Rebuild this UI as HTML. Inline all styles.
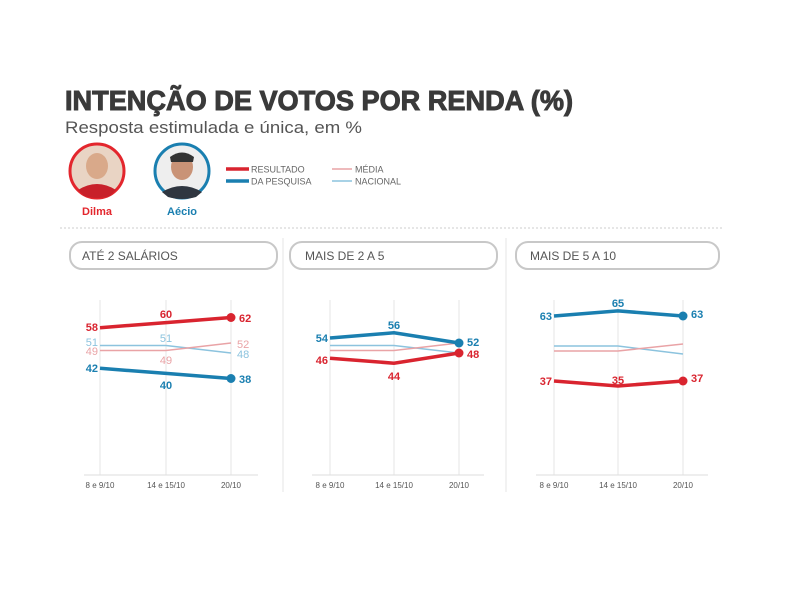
<!DOCTYPE html>
<html><head><meta charset="utf-8"><style>
html,body{margin:0;padding:0;background:#fff;width:800px;height:600px;overflow:hidden}
svg{display:block;font-family:"Liberation Sans",sans-serif}
</style></head><body>
<svg width="800" height="600" viewBox="0 0 800 600" xmlns="http://www.w3.org/2000/svg">
<text x="65" y="110" font-size="28" font-weight="900" fill="#3a3a3a" textLength="508" lengthAdjust="spacingAndGlyphs" stroke="#3a3a3a" stroke-width="1">INTENÇÃO DE VOTOS POR RENDA (%)</text>
<text x="65" y="133" font-size="17" fill="#555" textLength="297" lengthAdjust="spacingAndGlyphs">Resposta estimulada e única, em %</text>
<!-- avatars -->
<circle cx="97" cy="171" r="27" fill="#e9d4c4" stroke="#e3262d" stroke-width="3"/>
<ellipse cx="97" cy="166" rx="11" ry="13" fill="#d9a98a"/>
<path d="M78 190 Q97 178 116 190 L110 196 Q97 200 84 196Z" fill="#c8202a"/>
<circle cx="182" cy="171" r="27" fill="#eee" stroke="#1a7fb0" stroke-width="3"/>
<ellipse cx="182" cy="167" rx="11" ry="13" fill="#c99377"/>
<path d="M170 157 Q182 148 194 157 L193 162 L171 162Z" fill="#333"/>
<path d="M162 192 Q182 180 202 192 L196 197 Q182 201 168 197Z" fill="#2f3640"/>
<text x="97" y="215" font-size="11" font-weight="bold" fill="#e3262d" text-anchor="middle">Dilma</text>
<text x="182" y="215" font-size="11" font-weight="bold" fill="#1a7fb0" text-anchor="middle">Aécio</text>
<!-- legend -->
<line x1="226" y1="169" x2="249" y2="169" stroke="#d9242f" stroke-width="3.5"/>
<line x1="226" y1="181" x2="249" y2="181" stroke="#1a7fb0" stroke-width="3.5"/>
<text x="251" y="172.5" font-size="9" fill="#666">RESULTADO</text>
<text x="251" y="184.5" font-size="9" fill="#666">DA PESQUISA</text>
<line x1="332" y1="169" x2="352" y2="169" stroke="#e9a3a6" stroke-width="1.5"/>
<line x1="332" y1="181" x2="352" y2="181" stroke="#8cc3de" stroke-width="1.5"/>
<text x="355" y="172.5" font-size="9" fill="#666">MÉDIA</text>
<text x="355" y="184.5" font-size="9" fill="#666">NACIONAL</text>
<line x1="60" y1="228" x2="722" y2="228" stroke="#ccc" stroke-width="1" stroke-dasharray="2,2"/>
<!-- panel separators -->
<line x1="283" y1="238" x2="283" y2="492" stroke="#e6e6e6"/>
<line x1="506" y1="238" x2="506" y2="492" stroke="#e6e6e6"/>
<!-- header boxes -->
<rect x="70" y="242" width="207" height="27" rx="12" fill="#fff" stroke="#c8c8c8" stroke-width="2"/>
<text x="82" y="260" font-size="12" fill="#555">ATÉ 2 SALÁRIOS</text>
<rect x="290" y="242" width="207" height="27" rx="12" fill="#fff" stroke="#c8c8c8" stroke-width="2"/>
<text x="305" y="260" font-size="12" fill="#555">MAIS DE 2 A 5</text>
<rect x="516" y="242" width="203" height="27" rx="12" fill="#fff" stroke="#c8c8c8" stroke-width="2"/>
<text x="530" y="260" font-size="12" fill="#555">MAIS DE 5 A 10</text>

<!-- Panel 1: x 100,166,231 ; y=475-2.54v -->
<g>
<line x1="100" y1="300" x2="100" y2="475" stroke="#e6e6e6"/>
<line x1="166" y1="300" x2="166" y2="475" stroke="#e6e6e6"/>
<line x1="231" y1="300" x2="231" y2="475" stroke="#e6e6e6"/>
<line x1="84" y1="475" x2="258" y2="475" stroke="#ddd"/>
<text x="100" y="488" font-size="8" fill="#555" text-anchor="middle">8 e 9/10</text>
<text x="166" y="488" font-size="8" fill="#555" text-anchor="middle">14 e 15/10</text>
<text x="231" y="488" font-size="8" fill="#555" text-anchor="middle">20/10</text>
<polyline points="100,345.5 166,345.5 231,353" fill="none" stroke="#8cc3de" stroke-width="1.5"/>
<polyline points="100,350.5 166,350.5 231,343" fill="none" stroke="#e9a3a6" stroke-width="1.5"/>
<polyline points="100,327.7 166,322.6 231,317.5" fill="none" stroke="#d9242f" stroke-width="3.5"/>
<polyline points="100,368.3 166,373.4 231,378.5" fill="none" stroke="#1a7fb0" stroke-width="3.5"/>
<circle cx="231" cy="317.5" r="4.5" fill="#d9242f"/>
<circle cx="231" cy="378.5" r="4.5" fill="#1a7fb0"/>
<g font-size="11" font-weight="bold">
<text x="98" y="331" fill="#d9242f" text-anchor="end">58</text>
<text x="166" y="318" fill="#d9242f" text-anchor="middle">60</text>
<text x="239" y="322" fill="#d9242f">62</text>
<text x="98" y="372" fill="#1a7fb0" text-anchor="end">42</text>
<text x="166" y="389" fill="#1a7fb0" text-anchor="middle">40</text>
<text x="239" y="383" fill="#1a7fb0">38</text>
</g>
<g font-size="11">
<text x="98" y="346" fill="#8cc3de" text-anchor="end">51</text>
<text x="98" y="355" fill="#e9a3a6" text-anchor="end">49</text>
<text x="166" y="342" fill="#8cc3de" text-anchor="middle">51</text>
<text x="166" y="364" fill="#e9a3a6" text-anchor="middle">49</text>
<text x="237" y="348" fill="#e9a3a6">52</text>
<text x="237" y="358" fill="#8cc3de">48</text>
</g>
</g>

<!-- Panel 2: x 330,394,459 -->
<g>
<line x1="330" y1="300" x2="330" y2="475" stroke="#e6e6e6"/>
<line x1="394" y1="300" x2="394" y2="475" stroke="#e6e6e6"/>
<line x1="459" y1="300" x2="459" y2="475" stroke="#e6e6e6"/>
<line x1="312" y1="475" x2="484" y2="475" stroke="#ddd"/>
<text x="330" y="488" font-size="8" fill="#555" text-anchor="middle">8 e 9/10</text>
<text x="394" y="488" font-size="8" fill="#555" text-anchor="middle">14 e 15/10</text>
<text x="459" y="488" font-size="8" fill="#555" text-anchor="middle">20/10</text>
<polyline points="330,345.5 394,345.5 459,353" fill="none" stroke="#8cc3de" stroke-width="1.5"/>
<polyline points="330,350.5 394,350.5 459,343" fill="none" stroke="#e9a3a6" stroke-width="1.5"/>
<polyline points="330,338 394,332.8 459,343" fill="none" stroke="#1a7fb0" stroke-width="3.5"/>
<polyline points="330,358.2 394,363.2 459,353" fill="none" stroke="#d9242f" stroke-width="3.5"/>
<circle cx="459" cy="343" r="4.5" fill="#1a7fb0"/>
<circle cx="459" cy="353" r="4.5" fill="#d9242f"/>
<g font-size="11" font-weight="bold">
<text x="328" y="342" fill="#1a7fb0" text-anchor="end">54</text>
<text x="394" y="329" fill="#1a7fb0" text-anchor="middle">56</text>
<text x="467" y="346" fill="#1a7fb0">52</text>
<text x="328" y="364" fill="#d9242f" text-anchor="end">46</text>
<text x="394" y="380" fill="#d9242f" text-anchor="middle">44</text>
<text x="467" y="358" fill="#d9242f">48</text>
</g>
</g>

<!-- Panel 3: x 554,618,683 -->
<g>
<line x1="554" y1="300" x2="554" y2="475" stroke="#e6e6e6"/>
<line x1="618" y1="300" x2="618" y2="475" stroke="#e6e6e6"/>
<line x1="683" y1="300" x2="683" y2="475" stroke="#e6e6e6"/>
<line x1="536" y1="475" x2="708" y2="475" stroke="#ddd"/>
<text x="554" y="488" font-size="8" fill="#555" text-anchor="middle">8 e 9/10</text>
<text x="618" y="488" font-size="8" fill="#555" text-anchor="middle">14 e 15/10</text>
<text x="683" y="488" font-size="8" fill="#555" text-anchor="middle">20/10</text>
<polyline points="554,346 618,346 683,354" fill="none" stroke="#8cc3de" stroke-width="1.5"/>
<polyline points="554,351 618,351 683,344" fill="none" stroke="#e9a3a6" stroke-width="1.5"/>
<polyline points="554,316 618,310.9 683,316" fill="none" stroke="#1a7fb0" stroke-width="3.5"/>
<polyline points="554,381 618,386 683,381" fill="none" stroke="#d9242f" stroke-width="3.5"/>
<circle cx="683" cy="316" r="4.5" fill="#1a7fb0"/>
<circle cx="683" cy="381" r="4.5" fill="#d9242f"/>
<g font-size="11" font-weight="bold">
<text x="552" y="320" fill="#1a7fb0" text-anchor="end">63</text>
<text x="618" y="307" fill="#1a7fb0" text-anchor="middle">65</text>
<text x="691" y="318" fill="#1a7fb0">63</text>
<text x="552" y="385" fill="#d9242f" text-anchor="end">37</text>
<text x="618" y="384" fill="#d9242f" text-anchor="middle">35</text>
<text x="691" y="382" fill="#d9242f">37</text>
</g>
</g>
</svg>
</body></html>
